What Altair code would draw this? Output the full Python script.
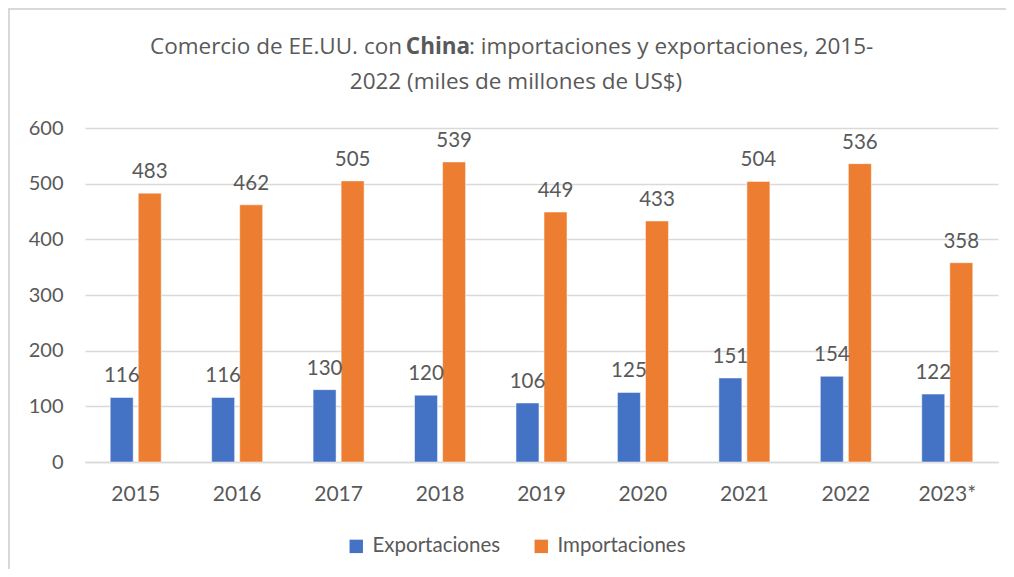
import altair as alt
import pandas as pd

years = ["2015", "2016", "2017", "2018", "2019", "2020", "2021", "2022", "2023*"]
exportaciones = [116, 116, 130, 120, 106, 125, 151, 154, 122]
importaciones = [483, 462, 505, 539, 449, 433, 504, 536, 358]
series = ["Exportaciones", "Importaciones"]
colors = ["#4472C4", "#ED7D31"]
yticks = [0, 100, 200, 300, 400, 500, 600]

rows = []
for y, e, i in zip(years, exportaciones, importaciones):
    rows.append({"year": y, "serie": series[0], "value": e})
    rows.append({"year": y, "serie": series[1], "value": i})
df = pd.DataFrame(rows)

FONT = "Lato"
TFONT = "Open Sans"
TXT = "#595959"
W, H = 913, 334
TS = 22.5
PB = 107

x = alt.X("year:N", sort=years, title=None,
          scale=alt.Scale(paddingInner=0.497, paddingOuter=0.2485),
          axis=alt.Axis(labelAngle=0, ticks=False, domain=True, domainColor="#d9d9d9",
                        domainWidth=1.5, labelPadding=21, labelFontSize=21,
                        labelColor=TXT, labelFont=FONT))
xo = alt.XOffset("serie:N", sort=series,
                 scale=alt.Scale(paddingInner=0.18, paddingOuter=0))
y = alt.Y("value:Q", title=None,
          scale=alt.Scale(domain=[0, 600], nice=False),
          axis=alt.Axis(values=yticks, ticks=False, domain=False, grid=True,
                        gridColor="#d9d9d9", gridWidth=1.5, labelPadding=22,
                        labelFontSize=20, labelColor=TXT, labelFont=FONT))
color = alt.Color("serie:N", sort=series, title=None,
                  scale=alt.Scale(domain=series, range=colors),
                  legend=alt.Legend(orient="none", direction="horizontal",
                                    legendX=261, legendY=408, symbolType="square",
                                    symbolSize=180, symbolStrokeWidth=0,
                                    labelFontSize=20.5, labelColor=TXT, labelFont=FONT,
                                    columnPadding=30, labelOffset=6, padding=0))

base = alt.Chart(df)
bars = base.mark_bar(stroke="white", strokeWidth=0.5).encode(x=x, xOffset=xo, y=y, color=color)
labels = base.mark_text(baseline="alphabetic", dy=-15, fontSize=20.5, font=FONT, color=TXT).encode(
    x=alt.X("year:N", sort=years), xOffset=alt.XOffset("serie:N", sort=series),
    y="value:Q", text="value:Q")

t1a = alt.Chart(pd.DataFrame({"t": ["Comercio de EE.UU. con"]})).mark_text(
    align="right", baseline="middle", fontSize=TS, font=TFONT, color=TXT).encode(
    x=alt.value(317), y=alt.value(-81), text="t:N")
t1b = alt.Chart(pd.DataFrame({"t": ["China"]})).mark_text(
    align="center", baseline="middle", fontSize=TS, font=TFONT, fontWeight="bold", color=TXT).encode(
    x=alt.value(353), y=alt.value(-81), text="t:N")
t1c = alt.Chart(pd.DataFrame({"t": [": importaciones y exportaciones, 2015-"]})).mark_text(
    align="left", baseline="middle", fontSize=TS, font=TFONT, color=TXT).encode(
    x=alt.value(384), y=alt.value(-81), text="t:N")
t2 = alt.Chart(pd.DataFrame({"t": ["2022 (miles de millones de US$)"]})).mark_text(
    align="center", baseline="middle", fontSize=TS, font=TFONT, color=TXT).encode(
    x=alt.value(431), y=alt.value(-46), text="t:N")

frame_top = alt.Chart(pd.DataFrame({"a": [0]})).mark_rule(color="#d9d9d9", strokeWidth=2).encode(
    x=alt.value(-77), x2=alt.value(W + 8), y=alt.value(-119))
frame_left = alt.Chart(pd.DataFrame({"a": [0]})).mark_rule(color="#d9d9d9", strokeWidth=2).encode(
    x=alt.value(-76), y=alt.value(-120), y2=alt.value(H + PB))

chart = alt.layer(frame_top, frame_left, bars, labels, t1a, t1b, t1c, t2).properties(
    width=W, height=H,
    autosize=alt.AutoSizeParams(type="none"),
    padding={"left": 77, "top": 120, "right": 8, "bottom": PB},
).configure_view(stroke=None)

chart.save("out.html", embed_options={"renderer": "svg", "actions": False})
